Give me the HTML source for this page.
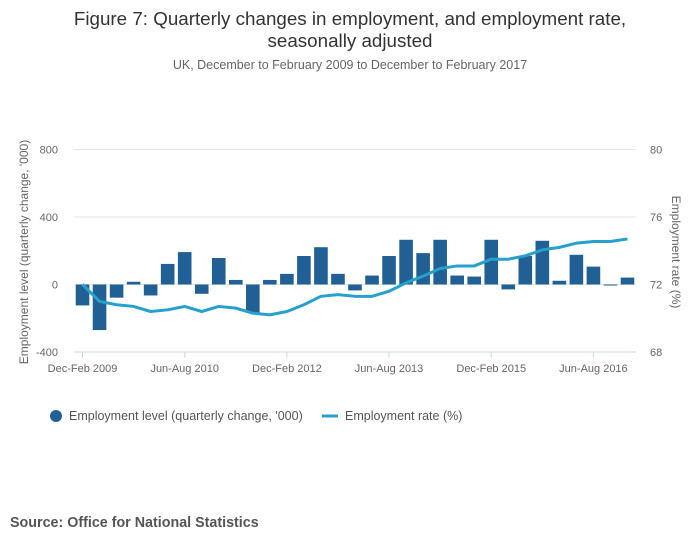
<!DOCTYPE html>
<html><head><meta charset="utf-8"><style>
body{margin:0;background:#fff;font-family:"Liberation Sans",sans-serif}
</style></head><body>
<svg width="700" height="549" xmlns="http://www.w3.org/2000/svg" id="chart" style="font-family:'Liberation Sans',sans-serif">
<text x="350" y="25" text-anchor="middle" font-size="18.8" fill="#333">Figure 7: Quarterly changes in employment, and employment rate,</text>
<text x="350" y="47" text-anchor="middle" font-size="18.8" fill="#333">seasonally adjusted</text>
<text x="350" y="69" text-anchor="middle" font-size="12.5" fill="#666">UK, December to February 2009 to December to February 2017</text>
<g id="grid"></g><g id="bars"></g><g id="line"></g><g id="axes"></g>
<text transform="translate(28,252) rotate(-90)" text-anchor="middle" font-size="12" fill="#666">Employment level (quarterly change, '000)</text>
<text transform="translate(672,252) rotate(90)" text-anchor="middle" font-size="12" fill="#666">Employment rate (%)</text>
<g>
<circle cx="56" cy="416" r="6" fill="#206095"/>
<text x="69" y="420" font-size="12.5" fill="#555">Employment level (quarterly change, '000)</text>
<line x1="322" y1="416" x2="338" y2="416" stroke="#27a0cc" stroke-width="3"/>
<text x="345" y="420" font-size="12.5" fill="#555">Employment rate (%)</text>
</g>
<text x="10" y="527" font-size="14.3" font-weight="bold" fill="#555">Source: Office for National Statistics</text>
</svg>
<script>
const levels=[-124,-270,-78,16,-65,122,192,-55,157,27,-167,27,63,169,221,63,-35,53,169,265,186,265,53,47,265,-29,169,259,22,176,106,-6,41];
const rates=[72.0,71.0,70.8,70.7,70.4,70.5,70.7,70.4,70.7,70.6,70.3,70.2,70.4,70.8,71.3,71.4,71.3,71.3,71.6,72.1,72.5,72.95,73.1,73.1,73.5,73.5,73.7,74.05,74.2,74.45,74.55,74.55,74.7];
const xLabels=["Dec-Feb 2009","Jun-Aug 2010","Dec-Feb 2012","Jun-Aug 2013","Dec-Feb 2015","Jun-Aug 2016"];
const leftTicks=[800,400,0,-400];
const rightTicks=[80,76,72,68];
const NS="http://www.w3.org/2000/svg";
const X0=74,X1=636,Y800=149.5,Ym400=352;
const n=levels.length,step=(X1-X0)/n;
const xc=i=>X0+step*(i+0.5);
const yL=v=>Y800+(800-v)*(Ym400-Y800)/1200;
const yR=v=>Y800+(80-v)*(Ym400-Y800)/12;
function mk(t,a,p){const e=document.createElementNS(NS,t);for(const k in a)e.setAttribute(k,a[k]);p.appendChild(e);return e;}
const grid=document.getElementById('grid'),bars=document.getElementById('bars'),line=document.getElementById('line'),axes=document.getElementById('axes');
leftTicks.forEach((v,i)=>{
 const g=mk('line',{x1:X0,x2:X1,y1:yL(v),y2:yL(v),stroke:v==-400?'#ccd6eb':'#e6e6e6','stroke-width':1},grid);
 
 
 const t=mk('text',{x:58,y:yL(v)+4,'text-anchor':'end','font-size':11,fill:'#666'},axes);t.textContent=v;
 
 
});
rightTicks.forEach(v=>{
 const t=mk('text',{x:650,y:yR(v)+4,'font-size':11,fill:'#666'},axes);t.textContent=v;
 
 
});
levels.forEach((v,i)=>{
 const y0=yL(0),y1=yL(v);
 const r=mk('rect',{x:xc(i)-6.8,width:13.6,y:Math.min(y0,y1),height:Math.max(1,Math.abs(y1-y0)),fill:'#206095'},bars);
 
 
});
const p=mk('polyline',{points:rates.map((v,i)=>xc(i)+','+yR(v)).join(' '),fill:'none',stroke:'#27a0cc','stroke-width':3,'stroke-linejoin':'round'},line);


xLabels.forEach((l,k)=>{
 const x=xc(k*6);
 const tk=mk('line',{x1:x,x2:x,y1:Ym400,y2:Ym400+6,stroke:'#ccd6eb'},axes);
 
 
 const t=mk('text',{x:x,y:372,'text-anchor':'middle','font-size':11,fill:'#666'},axes);t.textContent=l;
 
 
});
</script>
</body></html>
